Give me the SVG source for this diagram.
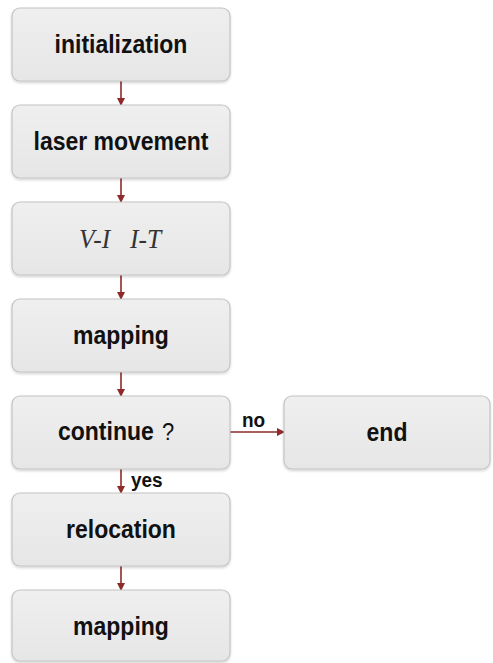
<svg xmlns="http://www.w3.org/2000/svg" width="493" height="663" viewBox="0 0 493 663">
<style>
.box{fill:url(#g);stroke:#c4c4c4;stroke-width:1.2}
.t{font-family:"Liberation Sans",Arial,sans-serif;font-weight:bold;font-size:23px;fill:#111;text-anchor:middle}
.q{font-weight:normal;font-size:22px}
.it{font-family:"Liberation Serif","Times New Roman",serif;font-style:italic;font-size:25.5px;fill:#333}
.lbl{font-family:"Liberation Sans",Arial,sans-serif;font-weight:bold;font-size:19px;fill:#111}
.c{stroke:#8e2a2a;stroke-width:1.6;fill:none}
</style>
<defs>
<linearGradient id="g" x1="0" y1="0" x2="0" y2="1">
<stop offset="0" stop-color="#efefef"/>
<stop offset="1" stop-color="#e6e6e6"/>
</linearGradient>
<filter id="sh" x="-5%" y="-5%" width="110%" height="115%">
<feDropShadow dx="0" dy="1.5" stdDeviation="1.2" flood-color="#000" flood-opacity="0.18"/>
</filter>
<marker id="ah" markerWidth="8" markerHeight="8" refX="7" refY="4" orient="auto" markerUnits="userSpaceOnUse">
<path d="M0,0 L8,4 L0,8 Z" fill="#8e2a2a"/>
</marker>
</defs>
<rect width="493" height="663" fill="#fff"/>
<g id="connectors">
<line class="c" x1="121" y1="81" x2="121" y2="105" marker-end="url(#ah)"/>
<line class="c" x1="121" y1="178" x2="121" y2="202" marker-end="url(#ah)"/>
<line class="c" x1="121" y1="275" x2="121" y2="299" marker-end="url(#ah)"/>
<line class="c" x1="121" y1="372" x2="121" y2="396" marker-end="url(#ah)"/>
<line class="c" x1="121" y1="469" x2="121" y2="493" marker-end="url(#ah)"/>
<line class="c" x1="121" y1="566" x2="121" y2="590" marker-end="url(#ah)"/>
<line class="c" x1="230" y1="432" x2="284" y2="432" marker-end="url(#ah)"/>
<text class="lbl" transform="translate(242,427) scale(1,1.08)">no</text>
<text class="lbl" transform="translate(131,487) scale(1,1.08)">yes</text>
</g>
<g id="n1"><rect class="box" filter="url(#sh)" x="12" y="8" width="218" height="73" rx="8"/><text class="t" transform="translate(121,52.5) scale(1,1.1)">initialization</text></g>
<g id="n2"><rect class="box" filter="url(#sh)" x="12" y="105" width="218" height="73" rx="8"/><text class="t" transform="translate(121,149.5) scale(1,1.1)">laser movement</text></g>
<g id="n3"><rect class="box" filter="url(#sh)" x="12" y="202" width="218" height="73" rx="8"/><text class="it" transform="translate(79,248.3) scale(1,1.08)">V-I</text><text class="it" transform="translate(130,248.3) scale(1,1.08)">I-T</text></g>
<g id="n4"><rect class="box" filter="url(#sh)" x="12" y="299" width="218" height="73" rx="8"/><text class="t" transform="translate(121,343.5) scale(1,1.1)">mapping</text></g>
<g id="n5"><rect class="box" filter="url(#sh)" x="12" y="396" width="218" height="73" rx="8"/><text class="t" style="text-anchor:start" transform="translate(58,439.5) scale(1,1.1)">continue<tspan class="q" x="104">?</tspan></text></g>
<g id="n6"><rect class="box" filter="url(#sh)" x="284" y="396" width="206" height="73" rx="8"/><text class="t" transform="translate(387,440.5) scale(1,1.1)">end</text></g>
<g id="n7"><rect class="box" filter="url(#sh)" x="12" y="493" width="218" height="73" rx="8"/><text class="t" transform="translate(121,537.5) scale(1,1.1)">relocation</text></g>
<g id="n8"><rect class="box" filter="url(#sh)" x="12" y="590" width="218" height="71" rx="8"/><text class="t" transform="translate(121,634.5) scale(1,1.1)">mapping</text></g>
</svg>
